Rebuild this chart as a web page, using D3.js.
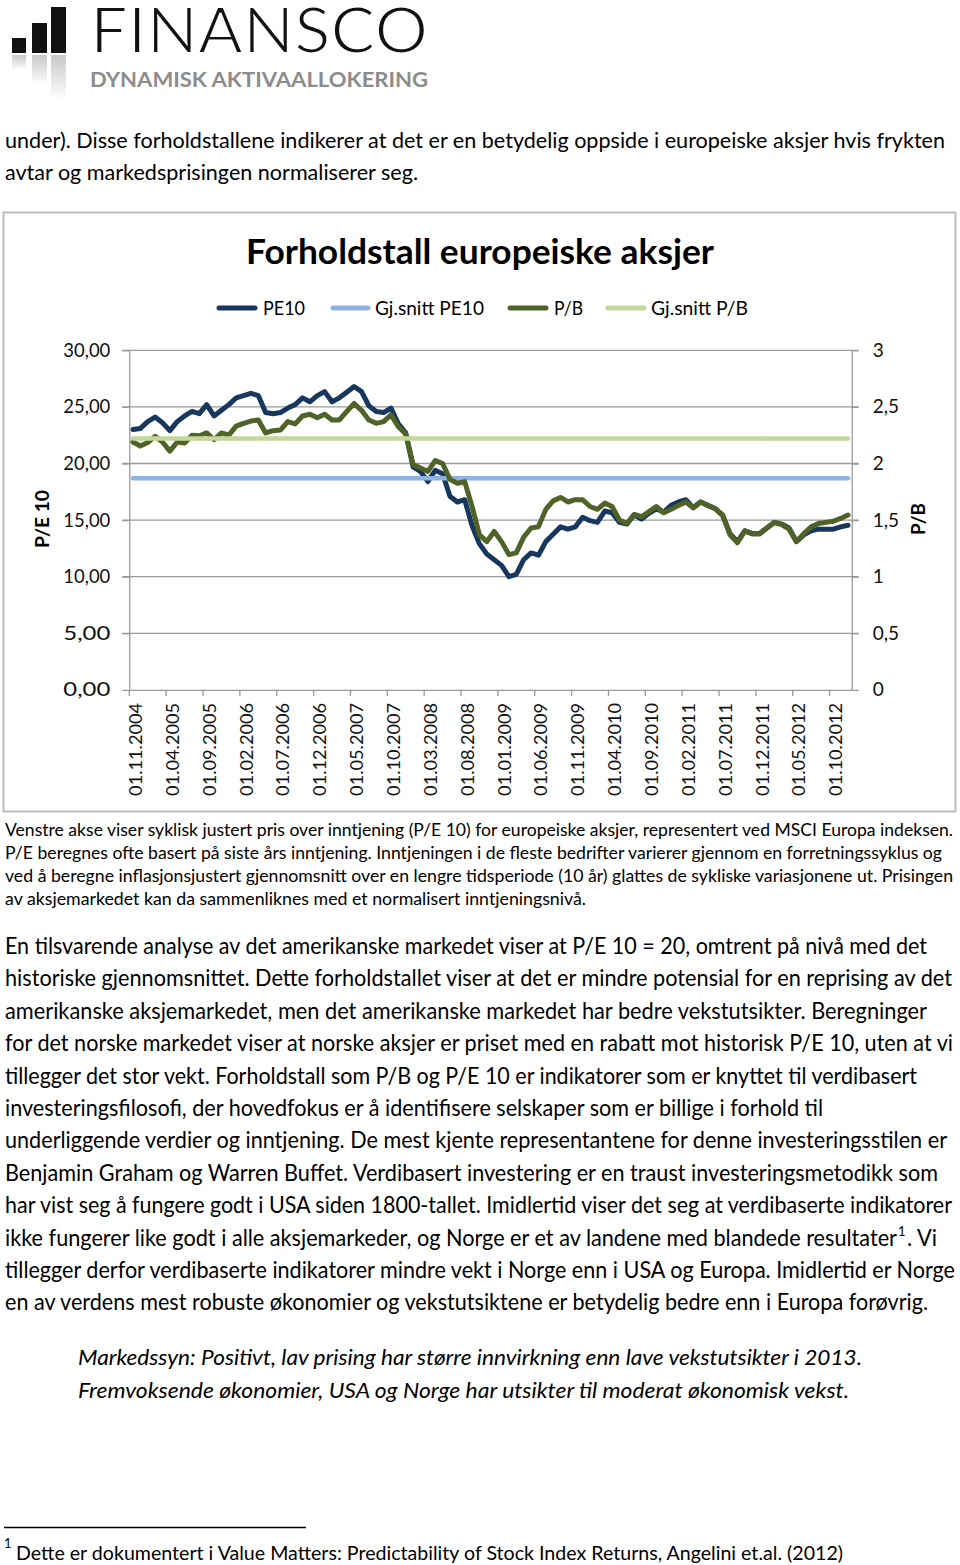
<!DOCTYPE html>
<html><head><meta charset="utf-8">
<script src="https://cdn.jsdelivr.net/npm/d3@7"></script>
<style>body{margin:0;background:#fff}svg{display:block}</style>
</head><body>
<svg id="c" width="960" height="1565"></svg>
<script>
// ---------- DATA ----------
const categories = d3.timeMonth.range(new Date(2004, 10, 1), new Date(2013, 0, 1)); // 98 months
const tickLabels = ["01.11.2004","01.04.2005","01.09.2005","01.02.2006","01.07.2006","01.12.2006",
  "01.05.2007","01.10.2007","01.03.2008","01.08.2008","01.01.2009","01.06.2009","01.11.2009",
  "01.04.2010","01.09.2010","01.02.2011","01.07.2011","01.12.2011","01.05.2012","01.10.2012"];
const pe10 = [23.0,23.1,23.7,24.1,23.6,22.9,23.7,24.2,24.6,24.4,
  25.2,24.2,24.7,25.2,25.8,26.0,26.2,26.0,24.5,24.4,
  24.5,24.9,25.2,25.8,25.45,26.0,26.35,25.45,25.8,26.3,
  26.8,26.35,25.1,24.6,24.5,24.9,23.5,22.7,19.7,19.3,
  18.4,19.4,19.1,17.1,16.6,16.8,14.5,12.9,12.0,11.5,
  11.0,10.0,10.2,11.5,12.1,11.9,13.1,13.75,14.4,14.2,
  14.4,15.25,14.95,14.8,15.8,15.65,14.8,14.65,15.45,15.1,
  15.6,16.0,15.7,16.3,16.6,16.8,16.1,16.6,16.3,16.0,
  15.4,13.8,13.1,14.05,13.8,13.8,14.3,14.8,14.65,14.3,
  13.1,13.7,14.05,14.2,14.2,14.2,14.4,14.55];
const pb = [2.19,2.155,2.185,2.24,2.19,2.11,2.19,2.18,2.25,2.245,
  2.27,2.21,2.27,2.25,2.33,2.355,2.375,2.385,2.27,2.29,
  2.295,2.37,2.35,2.42,2.435,2.405,2.435,2.385,2.385,2.46,
  2.53,2.47,2.385,2.355,2.37,2.43,2.325,2.26,1.99,1.96,
  1.93,2.025,2.0,1.86,1.825,1.84,1.62,1.37,1.31,1.40,
  1.31,1.195,1.21,1.35,1.43,1.44,1.595,1.67,1.70,1.66,
  1.68,1.68,1.62,1.595,1.65,1.62,1.50,1.47,1.55,1.53,
  1.575,1.62,1.565,1.595,1.63,1.66,1.61,1.66,1.63,1.60,
  1.545,1.37,1.30,1.405,1.38,1.38,1.43,1.48,1.46,1.42,
  1.31,1.38,1.44,1.47,1.48,1.49,1.515,1.545];
const avgPE10 = 18.7;
const avgPB = 2.22;
const leftTicks = [0,5,10,15,20,25,30];
const rightTicks = [0,0.5,1,1.5,2,2.5,3];
const seriesNames = ["PE10","Gj.snitt PE10","P/B","Gj.snitt P/B"];

// ---------- SETUP ----------
const svg = d3.select("#c");
svg.append("rect").attr("width",960).attr("height",1565).attr("fill","#fff");
const FONT = "Lato, 'Open Sans', sans-serif";
function txt(g, x, y, s, size, o = {}) {
  const t = g.append("text").attr("x", x).attr("y", y).text(s)
    .attr("font-size", size).attr("font-family", o.family || FONT)
    .attr("fill", o.fill || "#000");
  if (o.w) t.attr("textLength", o.w).attr("lengthAdjust", "spacingAndGlyphs");
  if (o.weight) t.attr("font-weight", o.weight);
  if (o.style) t.attr("font-style", o.style);
  if (o.anchor) t.attr("text-anchor", o.anchor);
  if (o.dy) t.attr("dy", o.dy);
  return t;
}

// ---------- LOGO ----------
const defs = svg.append("defs");
const grad = defs.append("linearGradient").attr("id","refl").attr("x1",0).attr("y1",0).attr("x2",0).attr("y2",1);
grad.append("stop").attr("offset","0%").attr("stop-color","#c8c8c8");
grad.append("stop").attr("offset","100%").attr("stop-color","#ffffff");
const logo = svg.append("g");
[[12,38,14],[32,23,15],[51,7,15]].forEach(([x,y,w]) => {
  logo.append("rect").attr("x",x).attr("y",y).attr("width",w).attr("height",53-y).attr("fill","#111");
  logo.append("rect").attr("x",x).attr("y",55).attr("width",w).attr("height",Math.min(53-y,45)).attr("fill","url(#refl)");
});
txt(logo, 90, 53, "FINANSCO", 63, {w:338, fill:"#111"}).attr("stroke","#fff").attr("stroke-width",2.2);
txt(logo, 90, 87, "DYNAMISK AKTIVAALLOKERING", 21, {w:338, fill:"#8c8c8c", weight:"bold"});

// ---------- TOP TEXT ----------
const body = svg.append("g");
txt(body, 5, 148, "under). Disse forholdstallene indikerer at det er en betydelig oppside i europeiske aksjer hvis frykten", 22, {w:940});
txt(body, 5, 180, "avtar og markedsprisingen normaliserer seg.", 22, {w:413});

// ---------- CHART ----------
svg.append("rect").attr("x",3.5).attr("y",212.5).attr("width",952).attr("height",599)
  .attr("fill","none").attr("stroke","#bdbdbd").attr("stroke-width",2);

const x = d3.scaleBand().domain(d3.range(categories.length)).range([129.3, 851.7]);
const bw = x.bandwidth();
const yL = d3.scaleLinear().domain([0,30]).range([689.9, 350.3]);
const yR = d3.scaleLinear().domain([0,3]).range([689.9, 350.3]);
const chart = svg.append("g");

// gridlines
chart.append("g").selectAll("line").data(leftTicks.filter(d => d > 0)).join("line")
  .attr("x1",122.3).attr("x2",858.7).attr("y1",d=>yL(d)).attr("y2",d=>yL(d))
  .attr("stroke","#9a9a9a").attr("stroke-width",1.3);

// left axis
const axL = chart.append("g").attr("transform","translate(129.3,0)")
  .call(d3.axisLeft(yL).tickValues(leftTicks).tickSize(7).tickSizeOuter(0).tickPadding(12)
    .tickFormat(d => d3.format(".2f")(d).replace(".",",")));
// right axis
const axR = chart.append("g").attr("transform","translate(851.7,0)")
  .call(d3.axisRight(yR).tickValues(rightTicks).tickSize(7).tickSizeOuter(0).tickPadding(14)
    .tickFormat(d => String(d).replace(".",",")));
// bottom axis
const tickIdx = d3.range(0, categories.length, 5);
const axB = chart.append("g").attr("transform","translate(0,689.9)")
  .call(d3.axisBottom(x).tickValues(tickIdx).tickSize(0).tickSizeOuter(0).tickFormat(""));
axB.selectAll(".tick").remove();
axB.selectAll("line.tm").data(tickIdx).join("line").attr("class","tm")
  .attr("x1",d=>x(d)).attr("x2",d=>x(d)).attr("y1",0).attr("y2",6)
  .attr("stroke","#9a9a9a").attr("stroke-width",1.3);
axB.selectAll("text.tl").data(tickIdx).join("text").attr("class","tl")
  .attr("transform", d => `translate(${x(d)+bw/2+2.6},13) rotate(-90)`)
  .attr("text-anchor","end").attr("dy","0.36em")
  .attr("font-family",FONT).attr("font-size",18).attr("fill","#111")
  .attr("textLength",93).attr("lengthAdjust","spacingAndGlyphs")
  .text((d,i) => tickLabels[i]);

[axL, axR, axB].forEach(a => {
  a.selectAll(".domain").attr("stroke","#9a9a9a").attr("stroke-width",1.3);
  a.selectAll(".tick line").attr("stroke","#9a9a9a").attr("stroke-width",1.3);
});
[axL, axR].forEach(a => a.selectAll(".tick text").attr("font-family",FONT).attr("font-size",19).attr("fill","#111"));
axL.selectAll(".tick text").attr("textLength",47).attr("lengthAdjust","spacingAndGlyphs");

// axis titles
txt(chart, 0, 0, "P/E 10", 19, {weight:"bold", anchor:"middle", dy:"0.35em", w:58})
  .attr("transform","translate(42,519) rotate(-90)");
txt(chart, 0, 0, "P/B", 19, {weight:"bold", anchor:"middle", dy:"0.35em", w:32})
  .attr("transform","translate(918,519) rotate(-90)");

// lines
const colors = {pe:"#17375E", avgpe:"#8DB4E2", pb:"#4F6228", avgpb:"#C4D79B"};
const idx = d3.range(categories.length);
function drawLine(vals, yScale, color, width) {
  chart.append("path").datum(vals)
    .attr("d", d3.line().x((v,i) => x(i) + bw/2).y(v => yScale(v)))
    .attr("fill","none").attr("stroke",color).attr("stroke-width",width)
    .attr("stroke-linejoin","round").attr("stroke-linecap","round");
}
drawLine(pe10, yL, colors.pe, 5);
drawLine(idx.map(() => avgPE10), yL, colors.avgpe, 4.5);
drawLine(pb, yR, colors.pb, 5);
drawLine(idx.map(() => avgPB), yR, colors.avgpb, 4.5);

// title
txt(chart, 480, 264, "Forholdstall europeiske aksjer", 34, {weight:"bold", anchor:"middle", w:468});

// legend
const legendItems = [
  {name:seriesNames[0], color:colors.pe, x1:219, x2:255, tx:263, w:42},
  {name:seriesNames[1], color:colors.avgpe, x1:333, x2:368, tx:375, w:109},
  {name:seriesNames[2], color:colors.pb, x1:510, x2:546, tx:554, w:29},
  {name:seriesNames[3], color:colors.avgpb, x1:608, x2:644, tx:651, w:97}
];
const lg = chart.append("g");
legendItems.forEach(d => {
  lg.append("line").attr("x1",d.x1).attr("x2",d.x2).attr("y1",308).attr("y2",308)
    .attr("stroke",d.color).attr("stroke-width",5).attr("stroke-linecap","round");
  txt(lg, d.tx, 308, d.name, 18.5, {dy:"0.36em", w:d.w});
});

// ---------- CAPTION ----------
const caption = [
  ["Venstre akse viser syklisk justert pris over inntjening (P/E 10) for europeiske aksjer, representert ved MSCI Europa indeksen.", 953],
  ["P/E beregnes ofte basert på siste års inntjening. Inntjeningen i de fleste bedrifter varierer gjennom en forretningssyklus og", 942],
  ["ved å beregne inflasjonsjustert gjennomsnitt over en lengre tidsperiode (10 år) glattes de sykliske variasjonene ut. Prisingen", 953],
  ["av aksjemarkedet kan da sammenliknes med et normalisert inntjeningsnivå.", 586]
];
caption.forEach(([s, r], i) => txt(body, 5, 836 + i*23, s, 17.6, {w:r-5}));

// ---------- BODY ----------
const para = [
  ["En tilsvarende analyse av det amerikanske markedet viser at P/E 10 = 20, omtrent på nivå med det", 927],
  ["historiske gjennomsnittet. Dette forholdstallet viser at det er mindre potensial for en reprising av det", 952],
  ["amerikanske aksjemarkedet, men det amerikanske markedet har bedre vekstutsikter. Beregninger", 927],
  ["for det norske markedet viser at norske aksjer er priset med en rabatt mot historisk P/E 10, uten at vi", 953],
  ["tillegger det stor vekt. Forholdstall som P/B og P/E 10 er indikatorer som er knyttet til verdibasert", 917],
  ["investeringsfilosofi, der hovedfokus er å identifisere selskaper som er billige i forhold til", 823],
  ["underliggende verdier og inntjening. De mest kjente representantene for denne investeringsstilen er", 947],
  ["Benjamin Graham og Warren Buffet. Verdibasert investering er en traust investeringsmetodikk som", 938],
  ["har vist seg å fungere godt i USA siden 1800-tallet. Imidlertid viser det seg at verdibaserte indikatorer", 952],
  ["ikke fungerer like godt i alle aksjemarkeder, og Norge er et av landene med blandede resultater", 897],
  ["tillegger derfor verdibaserte indikatorer mindre vekt i Norge enn i USA og Europa. Imidlertid er Norge", 955],
  ["en av verdens mest robuste økonomier og vekstutsiktene er betydelig bedre enn i Europa forøvrig.", 928]
];
para.forEach(([s, r], i) => txt(body, 5, 954 + i*32.4, s, 23.3, {w:r-5}));
const y10 = 954 + 9*32.4;
txt(body, 898, y10 - 10, "1", 13);
txt(body, 907, y10, ". Vi", 23.3, {w:30});

// italic lines
txt(body, 78, 1365, "Markedssyn: Positivt, lav prising har større innvirkning enn lave vekstutsikter i 2013.", 21, {style:"italic", w:784});
txt(body, 78, 1398, "Fremvoksende økonomier, USA og Norge har utsikter til moderat økonomisk vekst.", 21, {style:"italic", w:771});

// footnote
body.append("line").attr("x1",4).attr("x2",306).attr("y1",1527.5).attr("y2",1527.5).attr("stroke","#000").attr("stroke-width",1.3);
txt(body, 4, 1548, "1", 13);
txt(body, 16, 1560, "Dette er dokumentert i Value Matters: Predictability of Stock Index Returns, Angelini et.al. (2012)", 19.5, {w:827});
</script>
</body></html>
